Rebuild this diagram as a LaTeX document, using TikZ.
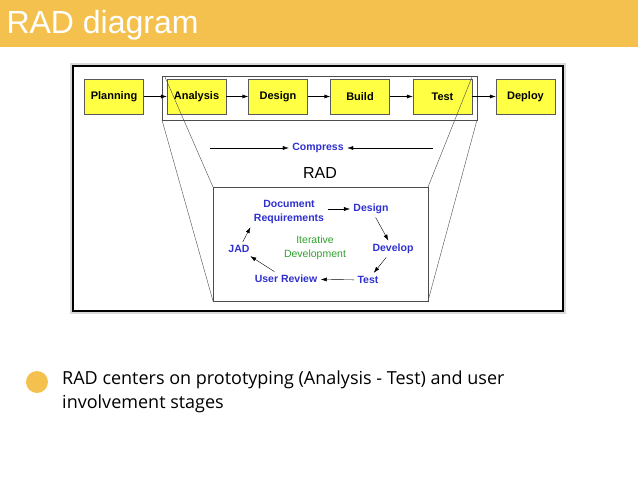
\documentclass[tikz,border=0pt]{standalone}
\usepackage{fontspec}
\setmainfont{Liberation Sans}
\newfontfamily\bodyf{Open Sans}
\usetikzlibrary{arrows.meta}
\definecolor{bar}{HTML}{F5C14E}
\definecolor{boxy}{HTML}{FFFF44}
\definecolor{bl}{HTML}{3030D0}
\definecolor{gr}{HTML}{30A030}
\begin{document}
\begin{tikzpicture}[x=1pt,y=-1pt,
 stage/.style={draw=gray!70!black,fill=boxy,minimum width=59pt,minimum height=35pt,font=\bfseries\fontsize{11}{11}\selectfont,inner sep=0},
 bt/.style={text=bl,font=\bfseries\fontsize{10.5}{12}\selectfont,align=center},
 ar/.style={-{Latex[length=6pt,width=4pt]},thin},
 ln/.style={draw=black!70,thin}]
\useasboundingbox (0,0) rectangle (638,478);
\fill[white] (0,0) rectangle (638,478);
\fill[bar] (0,0) rectangle (638,47);
\node[anchor=west,text=white,font=\fontsize{32}{32}\selectfont] (title) at (3,25) {RAD diagram};
\draw[gray!30,line width=2pt] (71,64) rectangle (565,313);
\draw[black,line width=1.5pt] (73,66) rectangle (563,311);
\draw[ln] (162,76) rectangle (477,120);
\draw[ln] (162,120) -- (213,301) (477,120) -- (428,301);
\draw[ln] (213,187) rectangle (428,301);
\node[stage] (p) at (114,96.5) {Planning};
\node[stage] (a) at (196.5,96.5) {Analysis};
\node[stage] (d) at (278,96.5) {Design};
\node[stage] (b) at (360,96.5) {Build};
\node[stage] (t) at (442.5,96.5) {Test};
\node[stage] (dp) at (525.5,96.5) {Deploy};
\foreach \u/\v in {p/a,a/d,d/b,b/t,t/dp} \draw[ar] (\u) -- (\v);
\draw[ln] (165,77) -- (213,187) (472,77) -- (428,187);
\node[bt] (c) at (318,148) {Compress};
\coordinate (cl) at (210,148); \coordinate (cr) at (433,148);
\draw[ar] (cl) -- (c.west);
\draw[ar] (cr) -- (c.east);
\node[font=\fontsize{16}{16}\selectfont] (rad) at (320,173) {RAD};
\node[bt,font=\bfseries\fontsize{10.5}{14}\selectfont] (dr) at (289,212) {Document\\Requirements};
\node[bt] (ds) at (371,209) {Design};
\node[bt] (jad) at (239,249) {JAD};
\node[text=gr,font=\fontsize{10.5}{14}\selectfont,align=center] (it) at (315,248) {Iterative\\Development};
\node[bt] (dv) at (393,249) {Develop};
\node[bt] (ur) at (286,279) {User Review};
\node[bt] (ts) at (368,280) {Test};
\draw[ar] (dr.east|-ds) -- (ds);
\draw[ar] (ds) -- (dv);
\draw[ar] (dv) -- (ts);
\draw[ar] (ts) -- (ur);
\draw[ar] (ur) -- (jad);
\draw[ar] (jad) -- (dr.south west);
\fill[bar] (37,382) circle (11);
\node[anchor=north west,align=left,inner sep=0,font=\bodyf\fontsize{18}{24}\selectfont] (txt) at (62,371) {RAD centers on prototyping (Analysis - Test) and user\\involvement stages};
\end{tikzpicture}
\end{document}
